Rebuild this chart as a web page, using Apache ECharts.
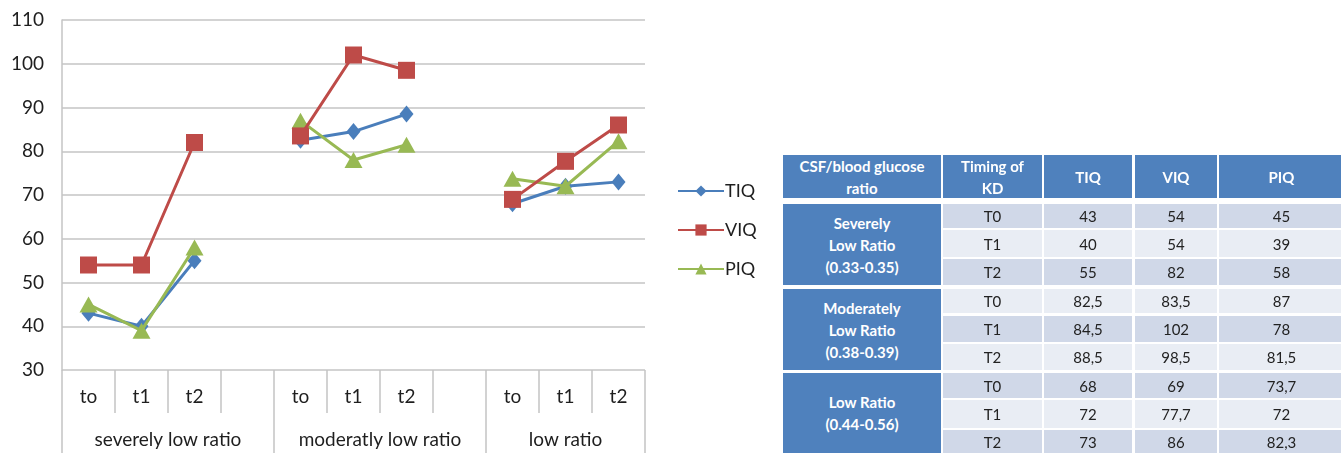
<!DOCTYPE html>
<html>
<head>
<meta charset="utf-8">
<script src="https://cdn.jsdelivr.net/npm/echarts@6/dist/echarts.min.js"></script>
<style>
  html, body { margin:0; padding:0; background:#fff; }
  #chart { position:absolute; left:0; top:0; width:1341px; height:453px; }
  #table { position:absolute; left:0; top:0; width:1341px; height:453px; overflow:hidden; font-family: Lato, "Open Sans", sans-serif; }
  .cell { position:absolute; display:flex; align-items:center; justify-content:center; text-align:center; box-sizing:border-box; }
  .hd { background:#4f81bd; color:#fff; font-weight:bold; font-size:15px; line-height:22px; }
  .dk { background:#d0d8e8; color:#222; font-size:15px; }
  .lt { background:#e9edf4; color:#222; font-size:15px; }
</style>
</head>
<body>
<div id="chart"></div>
<div id="table"></div>
<script>
// ---- data ----
const categories = ['to','t1','t2','','to','t1','t2','','to','t1','t2'];
const groups = ['severely low ratio','moderatly low ratio','low ratio'];
const seriesNames = ['TIQ','VIQ','PIQ'];
const tiq = [43, 40, 55, null, 82.5, 84.5, 88.5, null, 68, 72, 73];
const viq = [54, 54, 82, null, 83.5, 102, 98.5, null, 69, 77.7, 86];
const piq = [45, 39, 58, null, 87, 78, 81.5, null, 73.7, 72, 82.3];
const yTicks = [30, 40, 50, 60, 70, 80, 90, 100, 110];
const tableHeader = ['CSF/blood glucose<br>ratio', 'Timing of<br>KD', 'TIQ', 'VIQ', 'PIQ'];
const tableGroups = ['Severely<br>Low Ratio<br>(0.33-0.35)', 'Moderately<br>Low Ratio<br>(0.38-0.39)', 'Low Ratio<br>(0.44-0.56)'];
const timings = ['T0', 'T1', 'T2'];

// group spans on category axis (split at blank slots)
const groupBounds = [0];
categories.forEach((c, i) => { if (c === '') groupBounds.push(i + 1); });
groupBounds.push(categories.length);
const groupCenters = [];
for (let g = 0; g < groupBounds.length - 1; g++) groupCenters.push((groupBounds[g] + groupBounds[g + 1]) / 2);

const grey = '#c4c4c4';
const txt = '#1e1e1e';
const font = 'Lato, "Open Sans", sans-serif';

const chart = echarts.init(document.getElementById('chart'));
chart.setOption({
  animation: false,
  grid: { left: 62, top: 20, width: 583, height: 350 },
  legend: {
    orient: 'vertical', left: 677, top: 182, padding: 0,
    itemWidth: 46, itemHeight: 14, itemGap: 21,
    data: seriesNames,
    textStyle: { fontSize: 18, color: txt, fontFamily: font, padding: [0,0,0,-4] }
  },
  xAxis: [
    {
      type: 'category', data: categories, boundaryGap: true, position: 'bottom',
      axisLine: { show: false },
      axisTick: { show: true, interval: 0, length: 43, lineStyle: { color: grey, width: 1.5 } },
      axisLabel: { interval: 0, fontSize: 19, color: txt, fontFamily: font, margin: 17 },
      splitLine: { show: false }
    },
    {
      type: 'value', min: 0, max: categories.length, position: 'bottom',
      axisLine: { show: false },
      splitLine: { show: false },
      axisTick: { show: true, customValues: groupBounds, length: 83, lineStyle: { color: grey, width: 1.5 } },
      axisLabel: {
        customValues: groupCenters, fontSize: 19, color: txt, fontFamily: font, margin: 60,
        formatter: function (v) { const i = groupCenters.indexOf(v); return i >= 0 ? groups[i] : ''; }
      }
    }
  ],
  yAxis: {
    type: 'value', min: yTicks[0], max: yTicks[yTicks.length - 1], interval: yTicks[1] - yTicks[0],
    axisLine: { show: true, lineStyle: { color: grey, width: 1.5 } },
    axisTick: { show: false },
    axisLabel: { fontSize: 19, color: txt, fontFamily: font, margin: 18 },
    splitLine: { lineStyle: { color: grey, width: 1.5 } }
  },
  series: [
    { name: 'TIQ', type: 'line', data: tiq, xAxisIndex: 0, connectNulls: false,
      symbol: 'diamond', symbolSize: [14, 17], z: 2,
      lineStyle: { color: '#4a7ebb', width: 3 }, itemStyle: { color: '#4a7ebb' } },
    { name: 'PIQ', type: 'line', data: piq, xAxisIndex: 0, connectNulls: false,
      symbol: 'triangle', symbolSize: [18, 16], z: 3,
      lineStyle: { color: '#98b954', width: 3 }, itemStyle: { color: '#98b954' } },
    { name: 'VIQ', type: 'line', data: viq, xAxisIndex: 0, connectNulls: false,
      symbol: 'rect', symbolSize: 17, z: 4,
      lineStyle: { color: '#be4b48', width: 3 }, itemStyle: { color: '#be4b48' } }
  ]
});

// ---- table (HTML) ----
const tbl = document.getElementById('table');
const colX = [783, 943, 1044, 1135, 1219];
const colW = [158, 99, 88, 82, 125];
const headerY = [155, 198];
const rowY = [[204,228],[230,257],[259,285],[289,313],[316,342],[344,370],[373,398],[400,428],[430,453]];
function cell(x, y, w, h, cls, html) {
  const d = document.createElement('div');
  d.className = 'cell ' + cls;
  d.style.left = x + 'px'; d.style.top = y + 'px';
  d.style.width = w + 'px'; d.style.height = h + 'px';
  d.innerHTML = html;
  tbl.appendChild(d);
}
tableHeader.forEach((h, c) => cell(colX[c], headerY[0], colW[c], headerY[1] - headerY[0], 'hd', h));
const fmt = v => String(v).replace('.', ',');
const vals = [tiq, viq, piq].map(arr => arr.filter(v => v !== null));
tableGroups.forEach((g, gi) => {
  const r0 = rowY[gi * 3], r2 = rowY[gi * 3 + 2];
  cell(colX[0], r0[0], colW[0], r2[1] - r0[0], 'hd', g);
  timings.forEach((t, ti) => {
    const r = gi * 3 + ti;
    const cls = (r % 2 === 0) ? 'dk' : 'lt';
    const y = rowY[r][0], h = rowY[r][1] - rowY[r][0];
    cell(colX[1], y, colW[1], h, cls, t);
    vals.forEach((arr, si) => cell(colX[2 + si], y, colW[2 + si], h, cls, fmt(arr[r])));
  });
});
</script>
</body>
</html>
